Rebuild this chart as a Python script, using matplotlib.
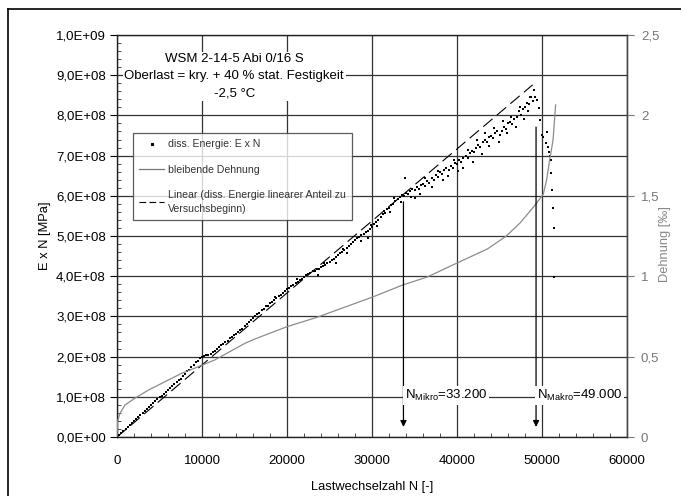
import matplotlib
matplotlib.use("Agg")
import matplotlib.pyplot as plt
from matplotlib.lines import Line2D
from matplotlib.ticker import FuncFormatter, MultipleLocator

plt.rcParams["font.family"] = ["Liberation Sans", "DejaVu Sans"]
plt.rcParams["mathtext.fontset"] = "custom"
plt.rcParams["mathtext.rm"] = "Liberation Sans"
plt.rcParams["mathtext.it"] = "Liberation Sans"

# dissipierte Energie E x N (Werte in 1e8 MPa)
energy_n = [
    0, 250, 500, 750, 1000, 1250, 1500, 1750, 2000, 2250, 2500, 2750, 3000, 3250,
    3500, 3750, 4000, 4250, 4500, 4750, 5000, 5250, 5500, 5750, 6000, 6250, 6500,
    6750, 7000, 7250, 7500, 7750, 8000, 8250, 8500, 8750, 9000, 9250, 9500, 9750,
    10000, 10250, 10500, 10750, 11000, 11250, 11500, 11750, 12000, 12250, 12500,
    12750, 13000, 13250, 13500, 13750, 14000, 14250, 14500, 14750, 15000, 15250,
    15500, 15750, 16000, 16250, 16500, 16750, 17000, 17250, 17500, 17750, 18000,
    18250, 18500, 18750, 19000, 19250, 19500, 19750, 20000, 20250, 20500, 20750,
    21000, 21250, 21500, 21750, 22000, 22250, 22500, 22750, 23000, 23250, 23500,
    23750, 24000, 24250, 24500, 24750, 25000, 25250, 25500, 25750, 26000, 26250,
    26500, 26750, 27000, 27250, 27500, 27750, 28000, 28250, 28500, 28750, 29000,
    29250, 29500, 29750, 30000, 30250, 30500, 30750, 31000, 31250, 31500, 31750,
    32000, 32250, 32500, 32750, 33000, 33250, 33500, 33750, 34000, 34250, 34500,
    34750, 35000, 35250, 35500, 35750, 36000, 36250, 36500, 36750, 37000, 37250,
    37500, 37750, 38000, 38250, 38500, 38750, 39000, 39250, 39500, 39750, 40000,
    40250, 40500, 40750, 41000, 41250, 41500, 41750, 42000, 42250, 42500, 42750,
    43000, 43250, 43500, 43750, 44000, 44250, 44500, 44750, 45000, 45250, 45500,
    45750, 46000, 46250, 46500, 46750, 47000, 47250, 47500, 47750, 48000, 48250,
    48500, 48750, 49000,
    18600, 21200, 23600, 24400, 25800, 26600, 27000, 28700, 29500, 29900,
    30600, 31400, 32100, 32600, 33400, 33900, 34600, 35100, 35600, 36200, 37100,
    37800, 38300, 38900, 39600, 40100, 40700, 41300, 41900, 42400, 42900, 43300,
    43800, 44300, 44900, 45400, 45900, 46400, 46900, 47400, 47900, 48400, 48600,
    48900, 49200, 49400, 49600, 49800,
    50000, 50100, 50600, 50500, 50700, 50800, 50900, 51100, 51100, 51200, 51300,
    51400, 51400,
]
energy_e = [
    0.00, 0.05, 0.10, 0.15, 0.20, 0.25, 0.30, 0.35, 0.40, 0.44, 0.49, 0.54, 0.59, 0.64,
    0.69, 0.74, 0.79, 0.85, 0.89, 0.95, 0.99, 1.03, 1.08, 1.12, 1.17, 1.22, 1.27,
    1.32, 1.37, 1.42, 1.45, 1.52, 1.57, 1.63, 1.66, 1.74, 1.80, 1.86, 1.90, 1.96,
    2.00, 2.01, 2.03, 2.05, 2.07, 2.12, 2.14, 2.19, 2.23, 2.28, 2.31,
    2.37, 2.40, 2.46, 2.49, 2.53, 2.57, 2.60, 2.66, 2.69, 2.75, 2.81,
    2.86, 2.91, 2.96, 3.00, 3.06, 3.09, 3.16, 3.19, 3.25, 3.27, 3.34,
    3.36, 3.42, 3.45, 3.51, 3.53, 3.59, 3.62, 3.68, 3.70, 3.76, 3.78,
    3.84, 3.86, 3.91, 3.94, 3.99, 4.02, 4.05, 4.09, 4.12, 4.14, 4.18,
    4.19, 4.23, 4.26, 4.29, 4.33, 4.36, 4.41, 4.44, 4.49, 4.53, 4.57,
    4.61, 4.65, 4.70, 4.75, 4.79, 4.84, 4.89, 4.94, 4.97, 5.02, 5.05,
    5.09, 5.12, 5.17, 5.22, 5.30, 5.36, 5.40, 5.47, 5.55, 5.58, 5.66,
    5.70, 5.78, 5.80, 5.88, 5.91, 5.97, 6.01, 6.00, 6.08, 6.05, 6.12,
    6.18, 6.14, 6.22, 6.17, 6.27, 6.30, 6.24, 6.38, 6.33, 6.45, 6.40,
    6.52, 6.47, 6.60, 6.55, 6.63, 6.70, 6.64, 6.74, 6.68, 6.82, 6.78,
    6.88, 6.85, 6.93, 6.98, 6.94, 7.06, 7.12, 7.08, 7.20, 7.26, 7.22,
    7.35, 7.40, 7.33, 7.46, 7.50, 7.44, 7.55, 7.60, 7.52, 7.62, 7.70,
    7.66, 7.80, 7.84, 7.78, 7.90, 7.96, 8.10, 8.02, 8.15, 8.20, 8.32,
    8.28, 8.45, 8.62,
    3.48, 3.92, 4.02, 4.34, 4.32, 4.68, 4.58, 4.88, 4.95, 5.28,
    5.25, 5.62, 5.60, 5.95, 5.85, 6.44, 5.98, 5.95, 6.05, 6.45, 6.22,
    6.62, 6.40, 6.50, 6.90, 6.62, 6.70, 7.15, 6.85, 7.40, 7.05, 7.55,
    7.25, 7.68, 7.35, 7.85, 7.55, 7.95, 7.72, 8.22, 7.90, 8.10, 8.45,
    8.35, 8.46, 8.38, 8.18, 7.89,
    7.51, 7.46, 7.59, 7.31, 7.21, 7.09, 7.00, 6.89, 6.57, 6.14, 5.70,
    5.20, 3.98,
]

# bleibende Dehnung in Promille (rechte Achse)
strain_n = [0, 80, 350, 940, 2100, 3700, 5650, 7600, 9560, 11500, 15060, 16200,
            20000, 23500, 30100, 33600, 36500, 40000, 43600, 45800, 47400, 49000,
            50150, 50550, 50900, 51300, 51500, 51600]
strain_d = [0.0, 0.10, 0.147, 0.199, 0.241, 0.292, 0.344, 0.396, 0.437, 0.479,
            0.583, 0.609, 0.686, 0.744, 0.871, 0.945, 0.995, 1.082, 1.17, 1.25,
            1.33, 1.43, 1.51, 1.60, 1.723, 1.847, 1.99, 2.065]

# linearer Anteil zu Versuchsbeginn
linear_n = [0, 48900]
linear_e = [0.0, 8.76]

n_mikro = 33700
n_makro = 49300

title_text = "WSM 2-14-5 Abi 0/16 S\nOberlast = kry. + 40 % stat. Festigkeit\n-2,5 °C"


def sci_comma(v, pos):
    if v == 0:
        return "0,0E+00"
    exp = 8 if v < 0.95e9 else 9
    return f"{v / 10 ** exp:.1f}E+{exp:02d}".replace(".", ",")


def plain_comma(v, pos):
    return f"{v:g}".replace(".", ",")


fig = plt.figure(figsize=(6.81, 4.96), dpi=100)
ax = fig.add_axes([117 / 681, 1 - 437 / 496, 510 / 681, 402 / 496])

# Rahmen nur links und oben
fig.add_artist(Line2D([8 / 681, 8 / 681], [0, 1 - 9 / 496], transform=fig.transFigure,
                      color="black", lw=1.2))
fig.add_artist(Line2D([8 / 681, 1], [1 - 9 / 496, 1 - 9 / 496], transform=fig.transFigure,
                      color="black", lw=1.2))

ax.scatter(energy_n, [e * 1e8 for e in energy_e], s=1.4, marker="s",
           color="black", linewidths=0, zorder=3)
ax.plot(linear_n, [e * 1e8 for e in linear_e], color="black", lw=0.8,
        dashes=(11, 5), zorder=3)

ax.set_xlim(0, 60000)
ax.set_ylim(0, 1e9)
ax.xaxis.set_major_locator(MultipleLocator(10000))
ax.xaxis.set_minor_locator(MultipleLocator(2000))
ax.yaxis.set_major_locator(MultipleLocator(1e8))
ax.yaxis.set_minor_locator(MultipleLocator(2e7))
ax.yaxis.set_major_formatter(FuncFormatter(sci_comma))
ax.grid(True, which="major", color="#333333", lw=0.9)
ax.set_axisbelow(True)
ax.tick_params(axis="x", which="major", direction="in", length=0, pad=13, labelsize=9.5)
ax.tick_params(axis="x", which="minor", direction="in", length=3, color="#333333")
ax.tick_params(axis="y", which="major", direction="out", length=5, pad=3, labelsize=9.5)
ax.tick_params(axis="y", which="minor", direction="in", length=3, color="#333333")
for sp in ax.spines.values():
    sp.set_color("#222222")
    sp.set_linewidth(1.0)

ax.set_xlabel("Lastwechselzahl N [-]", fontsize=9.3, labelpad=10)
ax.set_ylabel("E x N [MPa]", fontsize=9.3)
ax.yaxis.set_label_coords(-0.13, 0.5)

ax2 = ax.twinx()
ax2.plot(strain_n, strain_d, color="#8c8c8c", lw=0.9)
ax2.set_ylim(0, 2.5)
ax2.yaxis.set_major_locator(MultipleLocator(0.5))
ax2.yaxis.set_major_formatter(FuncFormatter(plain_comma))
ax2.tick_params(axis="y", direction="out", length=5, pad=5, labelsize=9.5,
                colors="#777777")
ax2.spines["right"].set_color("#444444")
for side in ("left", "top", "bottom"):
    ax2.spines[side].set_visible(False)
ax2.set_ylabel("Dehnung [‰]", fontsize=9.3, color="#888888")
ax2.yaxis.set_label_coords(1.062, 0.48)

ax2.text(0.23, 0.955, title_text, transform=ax.transAxes, ha="center", va="top",
         fontsize=9.5, linespacing=1.6,
         bbox=dict(facecolor="white", edgecolor="none", pad=1))

ax2.annotate("", xy=(n_mikro, 0.25e8), xytext=(n_mikro, 5.85e8),
             xycoords=ax.transData, textcoords=ax.transData,
             arrowprops=dict(arrowstyle="-|>", color="black", lw=0.9,
                             mutation_scale=9, shrinkA=0, shrinkB=0))
ax2.annotate("", xy=(n_makro, 0.25e8), xytext=(n_makro, 7.71e8),
             xycoords=ax.transData, textcoords=ax.transData,
             arrowprops=dict(arrowstyle="-|>", color="black", lw=0.9,
                             mutation_scale=9, shrinkA=0, shrinkB=0))
ax2.text(38700, 1.04e8, r"N$_{\mathrm{Mikro}}$=33.200", transform=ax.transData,
         ha="center", va="center", fontsize=9.5,
         bbox=dict(facecolor="white", edgecolor="none", pad=1.5))
ax2.text(54400, 1.04e8, r"N$_{\mathrm{Makro}}$=49.000", transform=ax.transData,
         ha="center", va="center", fontsize=9.5,
         bbox=dict(facecolor="white", edgecolor="none", pad=1.5))

handles = [
    Line2D([], [], ls="none", marker="s", ms=1.3, color="black"),
    Line2D([], [], color="#777777", lw=0.9),
    Line2D([], [], color="black", lw=0.8, dashes=(6, 3)),
]
labels = [
    "diss. Energie: E x N",
    "bleibende Dehnung",
    "Linear (diss. Energie linearer Anteil zu\nVersuchsbeginn)",
]
leg = ax2.legend(handles, labels, loc="upper left", bbox_to_anchor=(0.031, 0.756),
                 bbox_transform=ax.transAxes, borderaxespad=0, fontsize=7.6,
                 frameon=True, fancybox=False, edgecolor="#333333",
                 handlelength=2.4, handletextpad=0.3, labelspacing=1.45,
                 borderpad=0.6)
leg.get_frame().set_linewidth(0.9)
for t in leg.get_texts():
    t.set_color("#333333")
    t.set_linespacing(1.45)

fig.savefig("out.png", dpi=100)
